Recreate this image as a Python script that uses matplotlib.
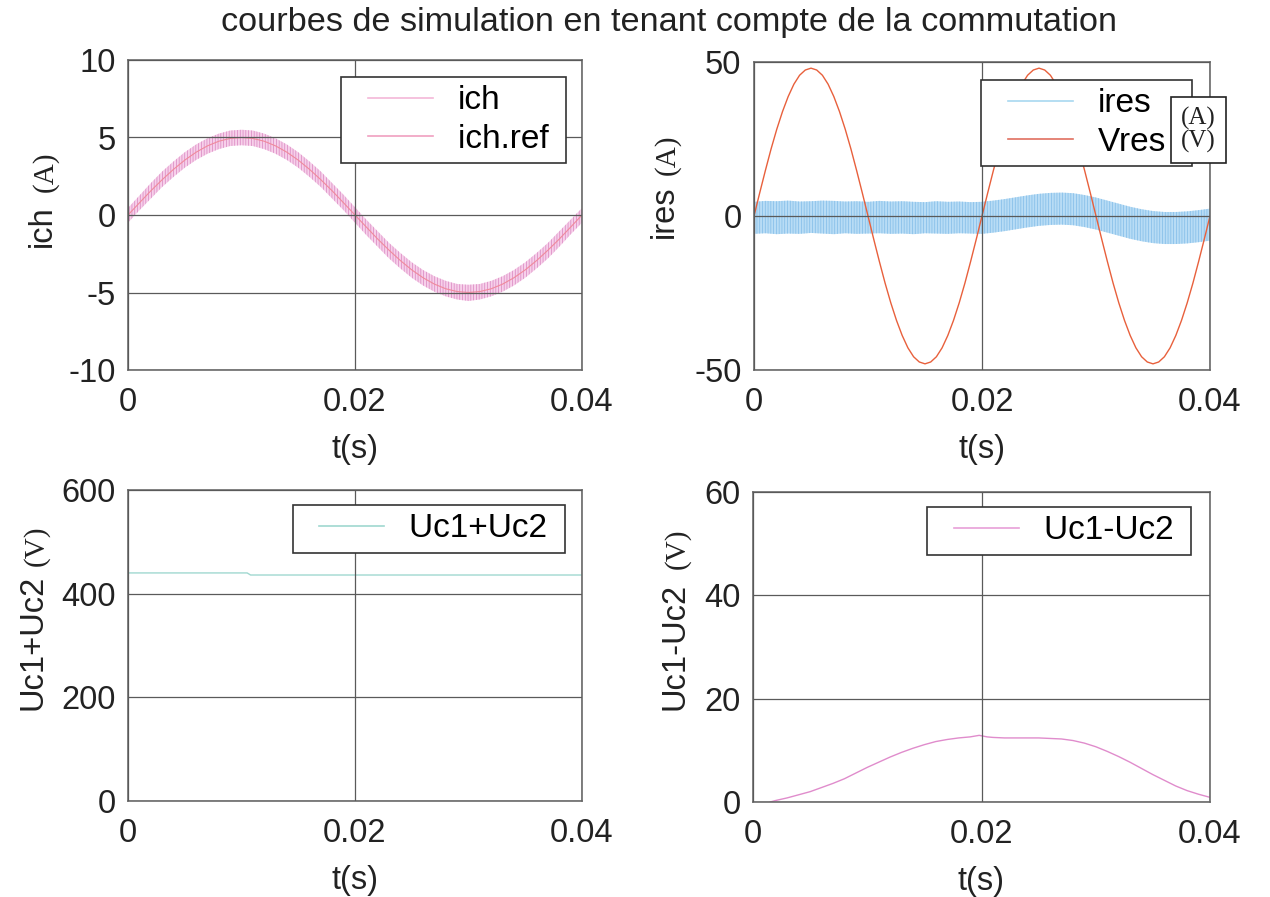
import numpy as np
import matplotlib
matplotlib.use('Agg')
import matplotlib.pyplot as plt
from matplotlib.lines import Line2D
from matplotlib.legend_handler import HandlerLine2D

plt.rcParams['font.family'] = ['Liberation Sans', 'DejaVu Sans']
plt.rcParams['hatch.linewidth'] = 0.5

# time grids (s)
t_1ms = np.arange(41) * 0.001
t_half = np.arange(81) * 0.0005

# load current and its reference (A)
ich_ref = [0, 0.78, 1.55, 2.27, 2.94, 3.54, 4.05, 4.46, 4.76, 4.94, 5.0,
           4.94, 4.76, 4.46, 4.05, 3.54, 2.94, 2.27, 1.55, 0.78, 0,
           -0.78, -1.55, -2.27, -2.94, -3.54, -4.05, -4.46, -4.76, -4.94, -5.0,
           -4.94, -4.76, -4.46, -4.05, -3.54, -2.94, -2.27, -1.55, -0.78, 0]
ich_hi = [0.45, 1.25, 2.05, 2.8, 3.45, 4.05, 4.55, 4.95, 5.25, 5.45, 5.5,
          5.45, 5.25, 4.95, 4.55, 4.05, 3.45, 2.8, 2.05, 1.3, 0.5,
          -0.3, -1.05, -1.8, -2.45, -3.05, -3.55, -3.95, -4.25, -4.45, -4.5,
          -4.45, -4.25, -3.95, -3.55, -3.05, -2.45, -1.8, -1.05, -0.3, 0.45]
ich_lo = [-0.5, 0.3, 1.05, 1.8, 2.45, 3.05, 3.55, 3.95, 4.25, 4.45, 4.5,
          4.45, 4.25, 3.95, 3.55, 3.05, 2.45, 1.8, 1.05, 0.3, -0.5,
          -1.3, -2.05, -2.8, -3.45, -4.05, -4.55, -4.95, -5.25, -5.45, -5.55,
          -5.45, -5.25, -4.95, -4.55, -4.05, -3.45, -2.8, -2.05, -1.25, -0.5]

# filter current envelope (A)
ires_hi = [4.6, 4.9, 4.8, 5.0, 4.7, 4.8, 5.0, 4.9, 4.7, 4.8, 4.6,
           4.9, 4.7, 4.8, 4.6, 4.5, 4.8, 4.6, 4.7, 4.5, 4.6,
           5.0, 5.5, 6.1, 6.7, 7.2, 7.5, 7.6, 7.4, 6.8, 6.0,
           5.0, 4.0, 3.0, 2.2, 1.6, 1.3, 1.3, 1.5, 1.9, 2.4]
ires_lo = [-5.8, -5.6, -5.9, -5.7, -5.8, -5.5, -5.7, -5.9, -5.6, -5.8, -5.7,
           -5.6, -5.8, -5.7, -5.9, -5.6, -5.7, -5.8, -5.6, -5.7, -5.8,
           -5.4, -4.9, -4.3, -3.7, -3.2, -2.9, -2.8, -3.0, -3.6, -4.4,
           -5.4, -6.4, -7.4, -8.2, -8.8, -9.1, -9.1, -8.9, -8.5, -8.0]

# network voltage (V), one period = 40 samples
vres = [0, 7.5, 14.8, 21.8, 28.2, 33.9, 38.8, 42.8, 45.7, 47.4, 48,
        47.4, 45.7, 42.8, 38.8, 33.9, 28.2, 21.8, 14.8, 7.5, 0,
        -7.5, -14.8, -21.8, -28.2, -33.9, -38.8, -42.8, -45.7, -47.4, -48,
        -47.4, -45.7, -42.8, -38.8, -33.9, -28.2, -21.8, -14.8, -7.5, 0,
        7.5, 14.8, 21.8, 28.2, 33.9, 38.8, 42.8, 45.7, 47.4, 48,
        47.4, 45.7, 42.8, 38.8, 33.9, 28.2, 21.8, 14.8, 7.5, 0,
        -7.5, -14.8, -21.8, -28.2, -33.9, -38.8, -42.8, -45.7, -47.4, -48,
        -47.4, -45.7, -42.8, -38.8, -33.9, -28.2, -21.8, -14.8, -7.5, 0]

# capacitor voltages (V)
t_sum = [0, 0.0105, 0.0108, 0.04]
uc_sum = [440, 440, 436, 436]
t_diff = [0.0015, 0.002, 0.003, 0.004, 0.005, 0.006, 0.007, 0.008, 0.009,
          0.010, 0.011, 0.012, 0.013, 0.014, 0.015, 0.016, 0.017, 0.018,
          0.019, 0.0198, 0.0205, 0.021, 0.022, 0.023, 0.024, 0.025, 0.026,
          0.027, 0.028, 0.029, 0.030, 0.031, 0.032, 0.033, 0.034, 0.035,
          0.036, 0.037, 0.038, 0.039, 0.040]
uc_diff = [0.0, 0.3, 0.8, 1.4, 2.0, 2.8, 3.6, 4.5, 5.6,
           6.7, 7.7, 8.7, 9.6, 10.4, 11.1, 11.7, 12.1, 12.4,
           12.6, 12.9, 12.6, 12.5, 12.4, 12.4, 12.4, 12.4, 12.3,
           12.2, 11.9, 11.4, 10.7, 9.8, 8.8, 7.7, 6.5, 5.3,
           4.2, 3.1, 2.2, 1.5, 0.9]

W, H = 1270, 897
fig = plt.figure(figsize=(W / 100, H / 100), dpi=100)

def box(x0, y0, x1, y1):
    return [x0 / W, 1 - y1 / H, (x1 - x0) / W, (y1 - y0) / H]

ax1 = fig.add_axes(box(128, 60, 582, 370))
ax2 = fig.add_axes(box(754, 62, 1210, 370))
ax3 = fig.add_axes(box(128, 490, 582, 801))
ax4 = fig.add_axes(box(753, 492, 1210, 802))

FS = 23.5
grid_c = '#5a5a5a'
serif = ['Liberation Serif', 'DejaVu Serif']

def style(ax, yticks):
    ax.set_xlim(0, 0.04)
    ax.set_ylim(yticks[0], yticks[-1])
    ax.set_xticks([0, 0.02, 0.04])
    ax.set_xticklabels(['0', '0.02', '0.04'])
    ax.set_yticks(yticks)
    ax.set_yticklabels([str(v) for v in yticks])
    ax.tick_params(labelsize=FS, length=0, pad=9, colors='#222222')
    ax.tick_params(axis='x', pad=12)
    ax.set_axisbelow(False)
    ax.grid(True, color=grid_c, lw=0.9)
    for s in ax.spines.values():
        s.set_color('#6a6a6a')
        s.set_linewidth(1.2)
    ax.set_xlabel('t(s)', fontsize=FS, color='#222222', labelpad=12)

handler = {Line2D: HandlerLine2D(xpad=0.55)}
leg_kw = dict(fontsize=24, loc='upper right', borderaxespad=0, fancybox=False,
              framealpha=1, edgecolor='#333333', borderpad=0.25,
              labelspacing=0.22, handlelength=2.5, handletextpad=0.75,
              handler_map=handler)

# ich
ax1.fill_between(t_1ms, ich_lo, ich_hi, facecolor='#f7d0ea',
                 edgecolor='#d884bf', hatch='||||||', lw=0)
ax1.plot(t_1ms, ich_ref, color='#f08a9c', lw=0.8)
style(ax1, [-10, -5, 0, 5, 10])
h1 = [Line2D([], [], color='#f4b8d8', lw=1.2), Line2D([], [], color='#f0a0c0', lw=1.2)]
lg = ax1.legend(h1, ['ich', 'ich.ref '], bbox_to_anchor=(0.965, 0.945), **leg_kw)
lg.get_frame().set_linewidth(1.2)

# ires / Vres
ax2.fill_between(t_1ms, ires_lo, ires_hi, facecolor='#b8dcf5',
                 edgecolor='#80bce8', hatch='||||||', lw=0)
ax2.plot(t_half, vres, color='#e8603c', lw=1.0)
style(ax2, [-50, 0, 50])
h2 = [Line2D([], [], color='#a8d8f0', lw=1.2), Line2D([], [], color='#e07060', lw=1.2)]
lg = ax2.legend(h2, ['ires', 'Vres  '], bbox_to_anchor=(0.9605, 0.9416), **leg_kw)
lg.get_frame().set_linewidth(1.2)
fig.text(1181 / W, 1 - 130 / H, '(A)\n(V)', family=serif,
         fontsize=18, linespacing=0.95, va='center', ha='left', color='#222222',
         bbox=dict(boxstyle='square,pad=0.4', fc='white', ec='#222222', lw=1.2))

# Uc1+Uc2
ax3.plot(t_sum, uc_sum, color='#a0d8d0', lw=1.0)
style(ax3, [0, 200, 400, 600])
lg = ax3.legend([Line2D([], [], color='#a0d8d0', lw=1.2)], ['Uc1+Uc2 '],
                bbox_to_anchor=(0.9626, 0.952), **leg_kw)
lg.get_frame().set_linewidth(1.2)

# Uc1-Uc2
ax4.plot(t_diff, uc_diff, color='#e08ccc', lw=1.0)
style(ax4, [0, 20, 40, 60])
lg = ax4.legend([Line2D([], [], color='#e8a0d8', lw=1.2)], ['Uc1-Uc2 '],
                bbox_to_anchor=(0.958, 0.952), **leg_kw)
lg.get_frame().set_linewidth(1.2)

# y labels with units
def ylab(name, unit, xb, yname, yunit):
    fig.text(xb / W, 1 - yname / H, name, fontsize=FS, rotation=90,
             rotation_mode='anchor', ha='left', va='baseline', color='#222222')
    fig.text((xb + 1) / W, 1 - yunit / H, unit, fontsize=21, rotation=90,
             family=serif, rotation_mode='anchor', ha='left', va='baseline',
             color='#222222')

ylab('ich', '(A)', 51, 247, 192)
ylab('ires', '(A)', 673, 238, 175)
ylab('Uc1+Uc2', '(V)', 42, 710, 566)
ylab('Uc1-Uc2', '(V)', 683, 710, 569)

fig.text(669 / W, 1 - 22 / H, 'courbes de simulation en tenant compte de la commutation',
         fontsize=24.7, ha='center', va='center', color='#222222')

fig.savefig('out.png', dpi=100)
